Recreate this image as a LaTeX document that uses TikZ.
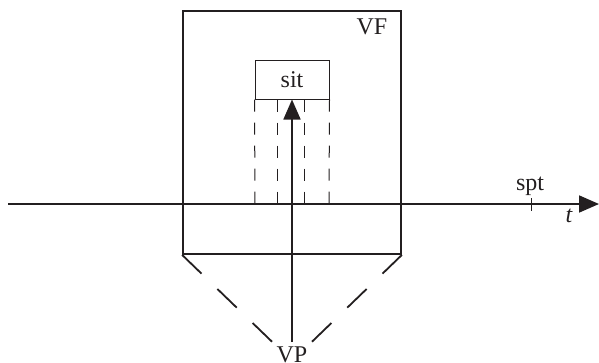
\documentclass[tikz,border=0pt]{standalone}
\usepackage{fontspec}
\setmainfont{Liberation Serif}
\usetikzlibrary{arrows.meta}
\definecolor{ink}{HTML}{231F20}
\begin{document}
\begin{tikzpicture}[x=1pt,y=-1pt,
  thick line/.style={draw=ink,line width=1.8pt},
  thin box/.style={draw=ink,line width=1pt},
  lbl/.style={text=ink,font=\fontsize{24}{28}\selectfont,inner sep=1pt},
  vdash/.style={draw=ink,line width=1pt,dash pattern=on 12pt off 11pt},
  ddash/.style={draw=ink,line width=1.8pt,dash pattern=on 27pt off 22pt},
  tip/.style={-{Triangle[length=20pt,width=17pt]}}]
\useasboundingbox (0,0) rectangle (599,362);
% frame VF
\node[thick line,minimum width=218pt,minimum height=243pt,inner sep=0pt] (vf) at (292,132.5) {};
\node[lbl] (vflbl) at (372,27) {VF};
% sit box
\node[thin box,minimum width=74pt,minimum height=39pt,inner sep=0pt,lbl] (sit) at (292,79.5) {sit};
% timeline
\coordinate (tl) at (8,204);
\coordinate (tr) at (599,204);
\draw[thick line,tip] (tl) -- (tr);
% dashed verticals
\coordinate (d1) at (255,204);
\coordinate (d2) at (277,204);
\coordinate (d3) at (304,204);
\coordinate (d4) at (329,204);
\draw[vdash] (sit.south west) -- (d1);
\draw[vdash] (sit.south west -| d2) -- (d2);
\draw[vdash] (sit.south west -| d3) -- (d3);
\draw[vdash] (sit.south east) -- (d4);
% spt tick
\coordinate (sptt) at (531,198);
\coordinate (sptb) at (531,211);
\draw[draw=ink,line width=1pt] (sptt) -- (sptb);
\node[lbl] (spt) at (530,186) {spt};
\node[lbl,font=\fontsize{24}{28}\selectfont\itshape] (t) at (569,216) {t};
% VP
\node[lbl,anchor=base,inner sep=2pt] (vp) at (292,362) {VP};
\coordinate (vpa) at (292,342);
\draw[thick line,tip] (vpa) -- (sit.south);
\draw[ddash] (vf.south west) -- (vp.north west);
\draw[ddash] (vf.south east) -- (vp.north east);
\end{tikzpicture}
\end{document}
